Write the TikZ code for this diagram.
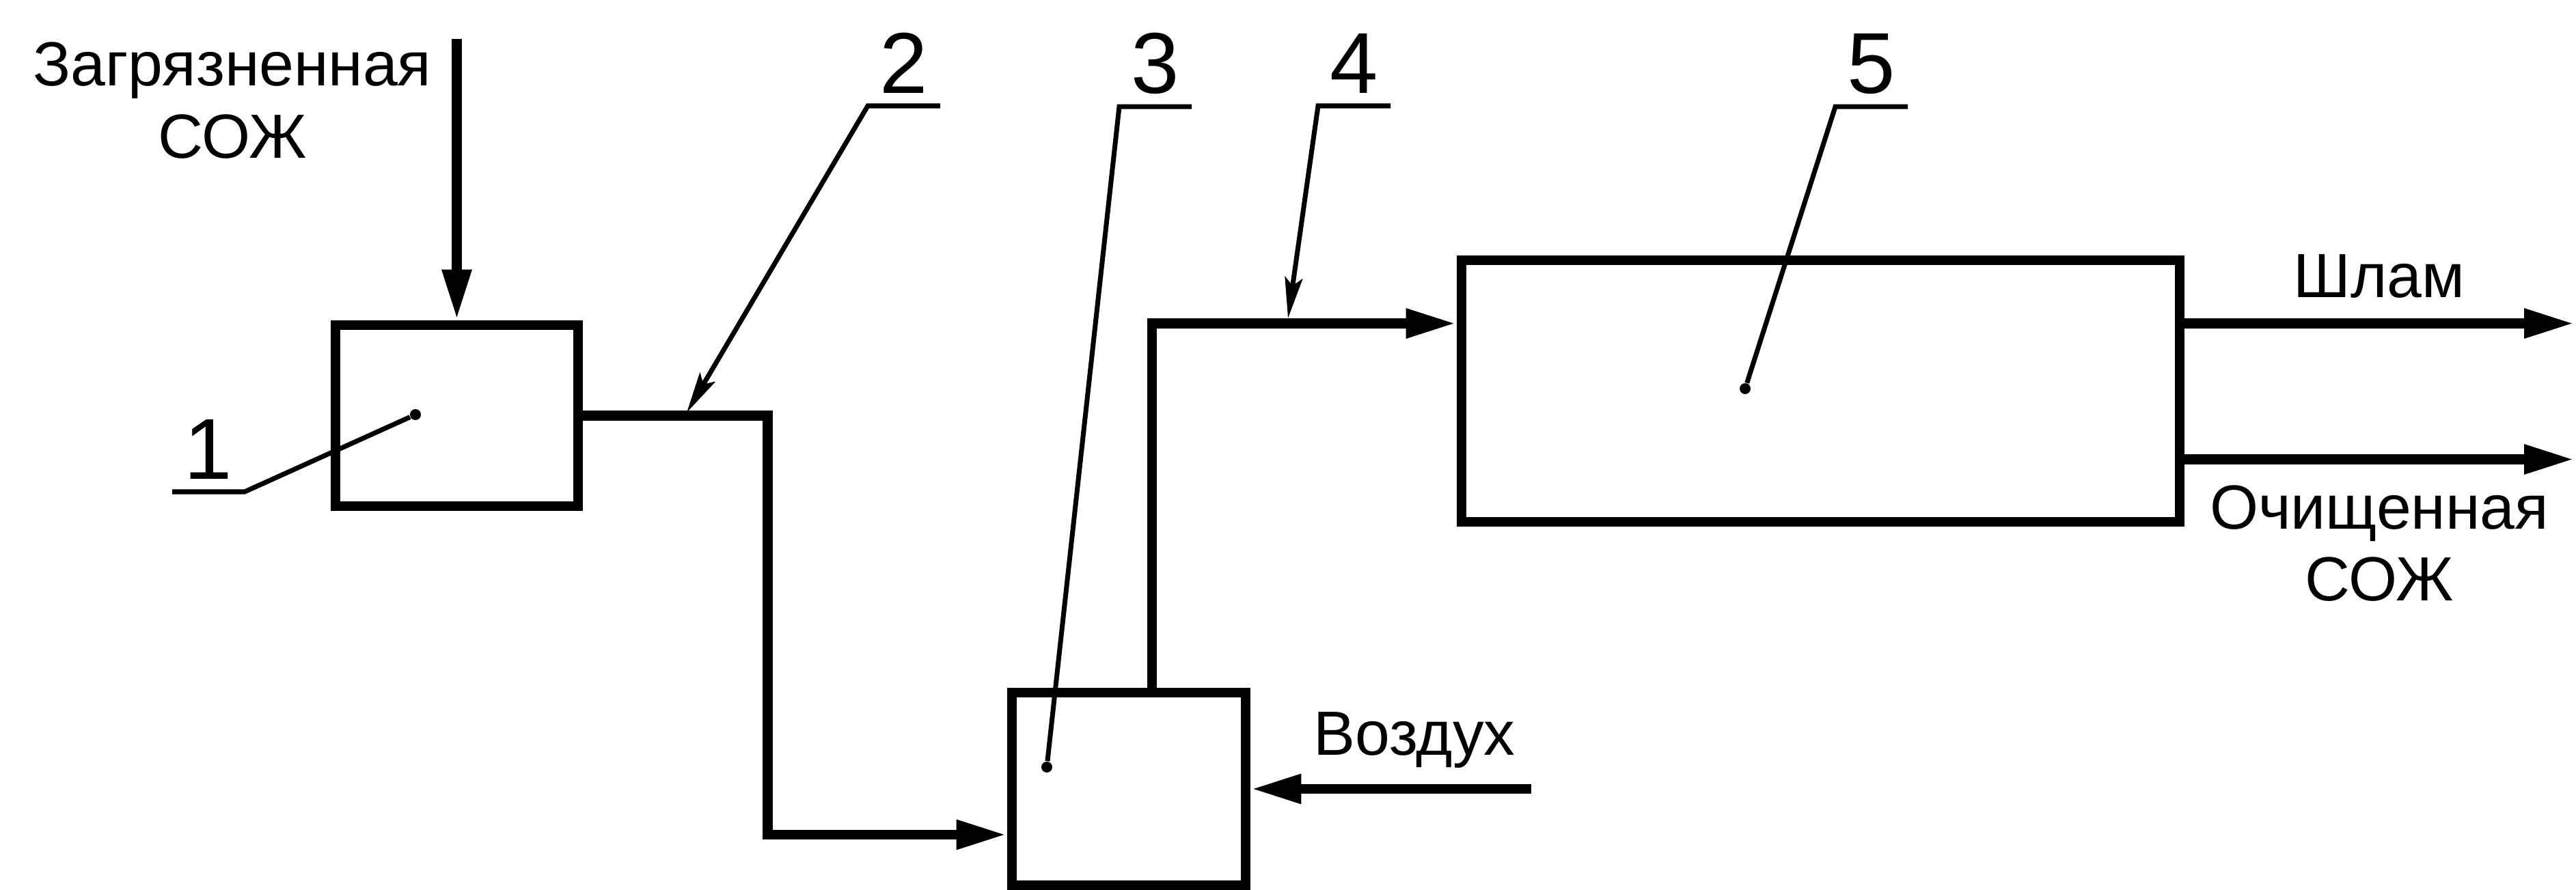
\documentclass[tikz,border=0pt]{standalone}
\usepackage{fontspec}
\setmainfont{Liberation Sans}
\usetikzlibrary{arrows.meta}

\begin{document}
\begin{tikzpicture}[
    box/.style={draw, line width=4.2pt, inner sep=0pt},
    flow/.style={line width=4.2pt, -{Triangle[length=7.4mm, width=4mm]}},
    leader/.style={line width=2pt},
    pointer/.style={leader, -{Stealth[length=6mm, width=2.6mm, inset=1.2mm]}},
    dot/.style={circle, fill, inner sep=0pt, minimum size=1.6mm},
    num/.style={font=\fontsize{36}{40}\selectfont, inner xsep=0pt, inner ysep=1.8mm,
                outer sep=0pt, minimum width=10.6mm, anchor=base},
    txt/.style={font=\fontsize{26}{30}\selectfont, inner sep=0pt, align=center}
  ]
  \useasboundingbox (0,0) rectangle (37.7,-13.03);

  \node[box, minimum width=3.55cm, minimum height=2.65cm] (b1) at (6.685,-6.085) {};
  \node[box, minimum width=3.42cm, minimum height=2.82cm] (b3) at (16.52,-11.55) {};
  \node[box, minimum width=10.51cm, minimum height=3.83cm] (b5) at (26.645,-5.725) {};

  \node[dot] (d1) at (6.08,-6.07) {};
  \node[dot] (d3) at (15.32,-11.23) {};
  \node[dot] (d5) at (25.54,-5.69) {};

  \node[txt] (dirty) at (3.40,-1.47) {Загрязненная\\СОЖ};
  \node[txt] (clean) at (34.82,-7.955) {Очищенная\\СОЖ};
  \node[txt, anchor=base] (slime) at (34.82,-4.36) {Шлам};
  \node[txt, anchor=base] (air) at (20.70,-11.05) {Воздух};

  \node[num] (n1) at (3.05,-7.02) {1};
  \node[num] (n2) at (13.23,-1.37) {2};
  \node[num] (n3) at (16.91,-1.37) {3};
  \node[num] (n4) at (19.82,-1.37) {4};
  \node[num] (n5) at (27.39,-1.37) {5};

  \coordinate (in1) at (6.685,-0.57);
  \coordinate (inair) at (22.41,-11.55);
  \coordinate (outslime) at (37.68,-4.735);
  \coordinate (outclean) at (37.68,-6.725);
  \coordinate (p2) at (10.05,-6.04);
  \coordinate (p4) at (18.85,-4.66);

  \draw[flow] (in1) -- (b1.north);
  \draw[flow] (b1.east) -- ++(2.70,0) |- ([yshift=-6.7mm]b3.west);
  \draw[flow] (inair) -- (b3.east |- inair);
  \draw[flow] ([xshift=3.4mm]b3.north) |- ([yshift=9.9mm]b5.west);
  \draw[flow] (b5.east |- outslime) -- (outslime);
  \draw[flow] (b5.east |- outclean) -- (outclean);

  \draw[leader] (n1.south west) -- (n1.south east) -- (d1);
  \draw[pointer] (n2.south east) -- (n2.south west) -- (p2);
  \draw[leader] (n3.south east) -- (n3.south west) -- (d3);
  \draw[pointer] (n4.south east) -- (n4.south west) -- (p4);
  \draw[leader] (n5.south east) -- (n5.south west) -- (d5);
\end{tikzpicture}
\end{document}
